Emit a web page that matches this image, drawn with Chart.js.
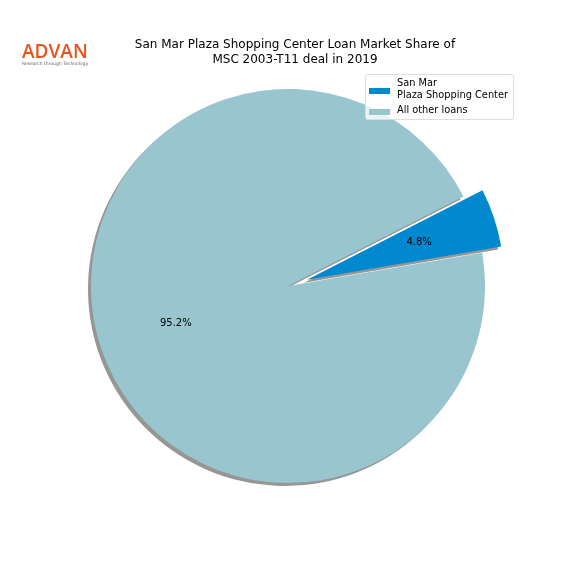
<!DOCTYPE html>
<html>
<head>
<meta charset="utf-8">
<script src="https://cdn.jsdelivr.net/npm/chart.js@4.4.0/dist/chart.umd.min.js"></script>
<style>
  body { margin: 0; background: #fff; }
  #wrap { position: relative; width: 576px; height: 576px; font-family: "DejaVu Sans", sans-serif; }
  #title { position: absolute; left: 95px; top: 37px; width: 400px; text-align: center; font-size: 12px; line-height: 15px; color: #000; }
  #logo { position: absolute; left: 22px; top: 40px; width: 68px; }
  #logo .big { font-family: "Open Sans", sans-serif; font-weight: 600; font-size: 19px; color: #e8541e; letter-spacing: 0px; line-height: 22px; }
  #logo .small { font-size: 4.5px; color: #666; margin-top: -1px; white-space: nowrap; }
  #legend { position: absolute; left: 365px; top: 74px; width: 147px; height: 44px; border: 1px solid #ddd; border-radius: 3px; background: rgba(255,255,255,0.8); font-size: 9.8px; color: #000; }
  .item { position: absolute; left: 3px; }
  .sw { position: absolute; width: 21px; height: 6px; }
  .lb { position: absolute; left: 28px; line-height: 12px; white-space: nowrap; }
  canvas { position: absolute; left: 0; top: 0; }
</style>
</head>
<body>
<div id="wrap">
  <canvas id="canvas1" width="576" height="576"></canvas>
  <div id="logo"><div class="big">ADVAN</div><div class="small">Research through Technology</div></div>
  <div id="title">San Mar Plaza Shopping Center Loan Market Share of<br>MSC 2003-T11 deal in 2019</div>
  <div id="legend"></div>
</div>
<script>
var labels = ["San Mar\nPlaza Shopping Center", "All other loans"];
var shares = [4.8, 95.2];
var colors = ["#0089cf", "#98c5ce"];
var explode = [20, 0];

// legend
var leg = document.getElementById("legend");
var tops = [2, 29];
var swTops = [11, 5];
for (var i = 0; i < labels.length; i++) {
  var it = document.createElement("div");
  it.className = "item";
  it.style.top = tops[i] + "px";
  var lines = labels[i].split("\n");
  var sw = document.createElement("div");
  sw.className = "sw";
  sw.style.background = colors[i];
  sw.style.top = swTops[i] + "px";
  var lb = document.createElement("div");
  lb.className = "lb";
  lb.innerHTML = lines.join("<br>");
  it.appendChild(sw);
  it.appendChild(lb);
  leg.appendChild(it);
}

function shift(a, i) {
  var mid = (a.startAngle + a.endAngle) / 2;
  return [Math.cos(mid) * explode[i], Math.sin(mid) * explode[i]];
}

var piePlugin = {
  id: "explodedPie",
  beforeDatasetsDraw: function(chart) {
    var ctx = chart.ctx;
    var arcs = chart.getDatasetMeta(0).data;
    // shadows first, under every wedge
    ctx.save();
    ctx.translate(-3, 3);
    ctx.fillStyle = "rgba(80,80,80,0.6)";
    arcs.forEach(function(a, i) {
      var d = shift(a, i);
      ctx.beginPath();
      ctx.moveTo(a.x + d[0], a.y + d[1]);
      ctx.arc(a.x + d[0], a.y + d[1], a.outerRadius, a.startAngle, a.endAngle);
      ctx.closePath();
      ctx.fill();
    });
    ctx.restore();
    // wedges, moved out by explode
    arcs.forEach(function(a, i) {
      var d = shift(a, i);
      ctx.save();
      ctx.translate(d[0], d[1]);
      a.draw(ctx);
      ctx.restore();
    });
    return false;
  },
  afterDraw: function(chart) {
    var ctx = chart.ctx;
    var arcs = chart.getDatasetMeta(0).data;
    ctx.save();
    ctx.fillStyle = "#000";
    ctx.font = "10px 'DejaVu Sans'";
    ctx.textAlign = "center";
    ctx.textBaseline = "middle";
    arcs.forEach(function(a, i) {
      var mid = (a.startAngle + a.endAngle) / 2;
      var r = a.outerRadius * 0.6 + explode[i];
      ctx.fillText(shares[i].toFixed(1) + "%", a.x + Math.cos(mid) * r, a.y + Math.sin(mid) * r);
    });
    ctx.restore();
  }
};

new Chart(document.getElementById("canvas1"), {
  type: "pie",
  data: {
    labels: labels,
    datasets: [{
      data: shares,
      backgroundColor: colors,
      borderWidth: 0
    }]
  },
  options: {
    responsive: false,
    animation: false,
    events: [],
    rotation: 63,
    radius: 197,
    layout: { padding: { top: 0, bottom: 4, left: 0, right: 0 } },
    plugins: { legend: { display: false }, tooltip: { enabled: false }, title: { display: false } }
  },
  plugins: [piePlugin]
});
</script>
</body>
</html>
